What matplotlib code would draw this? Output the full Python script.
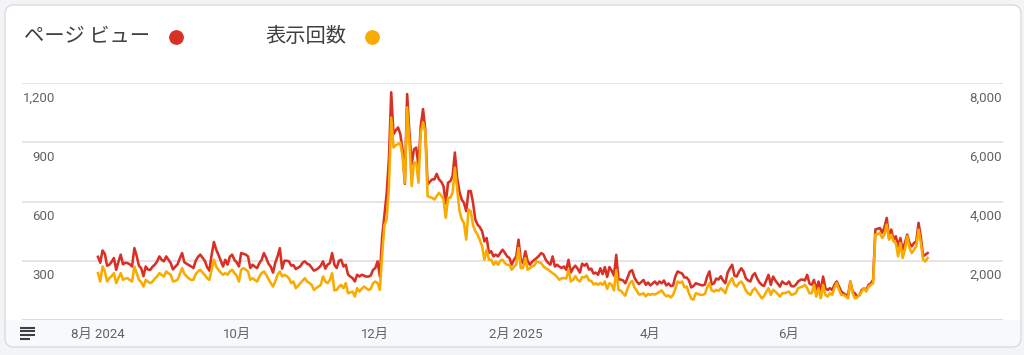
import matplotlib
matplotlib.use("Agg")
import matplotlib.pyplot as plt
import matplotlib.dates as mdates
from matplotlib.patches import FancyBboxPatch, Rectangle
from matplotlib.lines import Line2D
from matplotlib.transforms import blended_transform_factory, ScaledTranslation
import pandas as pd

plt.rcParams['font.family'] = ['Roboto', 'Noto Sans CJK JP', 'DejaVu Sans']

# ---------------- data ----------------
start_date = "2024-08-01"

pageviews = [
    320, 290, 352, 335, 275, 280, 295,
    314, 254, 295, 331, 282, 290, 288,
    282, 271, 364, 325, 275, 262, 222,
    271, 255, 254, 270, 280, 297, 322,
    305, 297, 322, 305, 288, 256, 270,
    282, 312, 339, 292, 285, 278, 271,
    263, 300, 320, 331, 315, 300, 268,
    250, 330, 395, 356, 330, 300, 271,
    305, 280, 320, 331, 305, 292, 271,
    339, 335, 331, 322, 263, 280, 270,
    263, 288, 305, 339, 314, 285, 270,
    240, 290, 322, 364, 260, 300, 300,
    297, 275, 278, 258, 265, 272, 290,
    297, 285, 280, 265, 250, 255, 263,
    275, 297, 260, 280, 288, 339, 280,
    263, 300, 305, 271, 280, 230, 220,
    212, 195, 229, 220, 229, 225, 220,
    220, 225, 254, 263, 297, 220, 420,
    530, 640, 820, 1153, 941, 960, 975,
    941, 860, 690, 1144, 949, 788, 864,
    873, 780, 983, 1068, 960, 686, 700,
    712, 712, 740, 712, 700, 678, 590,
    695, 703, 729, 848, 720, 650, 610,
    593, 551, 653, 653, 593, 508, 483,
    470, 449, 398, 415, 340, 348, 322,
    331, 322, 340, 356, 340, 322, 314,
    280, 305, 322, 407, 305, 288, 348,
    300, 280, 295, 305, 314, 325, 339,
    331, 305, 290, 280, 322, 271, 280,
    270, 263, 271, 254, 305, 240, 262,
    275, 260, 240, 285, 275, 285, 255,
    260, 235, 240, 229, 262, 232, 268,
    218, 268, 250, 225, 330, 205, 205,
    200, 186, 215, 245, 252, 215, 195,
    182, 192, 203, 178, 190, 175, 185,
    195, 180, 195, 186, 200, 175, 185,
    172, 175, 220, 246, 240, 235, 215,
    215, 200, 165, 172, 186, 182, 178,
    175, 180, 220, 246, 180, 186, 210,
    205, 222, 200, 186, 240, 262, 280,
    225, 220, 245, 262, 246, 212, 200,
    195, 225, 237, 210, 190, 178, 172,
    200, 229, 178, 220, 200, 185, 169,
    195, 185, 182, 195, 172, 170, 178,
    195, 203, 205, 200, 229, 185, 178,
    203, 152, 195, 144, 220, 161, 152,
    161, 152, 178, 195, 169, 144, 135,
    127, 127, 195, 144, 135, 118, 127,
    152, 161, 152, 178, 186, 203, 458,
    462, 466, 441, 470, 517, 415, 458,
    407, 424, 373, 415, 356, 390, 432,
    390, 373, 390, 398, 492, 420, 322,
    331, 339,
]

impressions = [
    1582, 1299, 1808, 1650, 1299, 1412, 1480,
    1582, 1243, 1420, 1582, 1356, 1400, 1412,
    1350, 1299, 1808, 1580, 1356, 1280, 1130,
    1356, 1290, 1243, 1299, 1400, 1469, 1582,
    1520, 1469, 1638, 1580, 1525, 1299, 1320,
    1356, 1550, 1751, 1560, 1469, 1400, 1356,
    1356, 1550, 1638, 1695, 1600, 1520, 1412,
    1356, 1700, 2034, 1800, 1695, 1600, 1525,
    1582, 1525, 1640, 1695, 1582, 1500, 1299,
    1695, 1751, 1700, 1638, 1356, 1412, 1350,
    1299, 1469, 1582, 1638, 1525, 1380, 1250,
    1130, 1300, 1525, 1638, 1469, 1525, 1480,
    1412, 1243, 1299, 1073, 1150, 1243, 1330,
    1412, 1299, 1250, 1186, 1017, 1080, 1130,
    1186, 1469, 1300, 1243, 1356, 1582, 1000,
    1017, 1130, 1186, 1073, 1243, 904, 930,
    960, 791, 1073, 960, 1050, 1130, 1073,
    1017, 1050, 1243, 1299, 1243, 1017, 2200,
    3200, 3400, 4500, 6836, 5819, 5900, 5932,
    5989, 5500, 4633, 7176, 5989, 4520, 5311,
    5311, 4633, 6328, 6667, 6328, 4181, 4150,
    4124, 4068, 4181, 4294, 4200, 4068, 3446,
    4124, 4124, 4294, 5141, 4407, 3700, 3400,
    3277, 2712, 3729, 3673, 3200, 3000, 2882,
    2700, 2486, 2034, 2373, 2034, 2034, 1864,
    1977, 1864, 2000, 2034, 1920, 1864, 1864,
    1695, 1800, 1864, 2430, 1751, 1751, 2091,
    1695, 1750, 1808, 1850, 1977, 1950, 1920,
    1808, 1750, 1700, 1638, 1582, 1525, 1450,
    1356, 1412, 1412, 1400, 1695, 1300, 1356,
    1480, 1350, 1300, 1450, 1440, 1500, 1330,
    1320, 1200, 1240, 1186, 1250, 1186, 1300,
    1050, 1243, 1186, 1000, 1680, 1017, 990,
    900, 820, 1073, 1250, 1320, 1100, 1000,
    860, 870, 900, 800, 880, 850, 880,
    860, 900, 950, 1000, 880, 800, 830,
    760, 850, 1050, 1300, 1250, 1300, 1100,
    1130, 900, 720, 690, 904, 880, 847,
    850, 880, 1100, 1243, 1000, 960, 1017,
    980, 1073, 1000, 904, 1150, 1300, 1412,
    1186, 1130, 1250, 1300, 1186, 1000, 900,
    847, 1000, 1073, 960, 850, 734, 800,
    950, 1073, 847, 1017, 960, 880, 791,
    900, 904, 930, 960, 847, 870, 904,
    1073, 1100, 1130, 1186, 1073, 904, 904,
    1186, 791, 1073, 734, 1186, 847, 791,
    904, 847, 1073, 1243, 1017, 847, 847,
    791, 734, 1299, 904, 734, 760, 847,
    960, 1073, 960, 1130, 1186, 1243, 2882,
    2900, 2938, 2769, 2882, 3221, 2712, 2882,
    2656, 2599, 2147, 2599, 2091, 2373, 2826,
    2430, 2260, 2373, 2486, 3051, 2600, 2034,
    1977, 2091,
]

series_names = ["ページ ビュー", "表示回数"]
left_ticks = [300, 600, 900, 1200]
left_labels = ["300", "600", "900", "1,200"]
right_ticks = [2000, 4000, 6000, 8000]
right_labels = ["2,000", "4,000", "6,000", "8,000"]
month_ticks = ["2024-08-01", "2024-10-01", "2024-12-01", "2025-02-01", "2025-04-01", "2025-06-01"]
month_labels = ["8月 2024", "10月", "12月", "2月 2025", "4月", "6月"]

dates = pd.date_range(start_date, periods=len(pageviews), freq="D")

RED = "#d93025"
ORANGE = "#f9ab00"
GRID = "#e3e3e3"
TXT = "#3c4043"
TICK = "#5f6368"

W, H = 1024, 355
fig = plt.figure(figsize=(W / 100, H / 100), dpi=100)
fig.patch.set_facecolor("#f3f4f6")

def px(x, y):
    return x / 100, (H - y) / 100

# card background
cx0, cy0 = px(5, 347)
card = FancyBboxPatch((cx0, cy0), 1016 / 100, 342 / 100,
                      boxstyle="round,pad=0,rounding_size=0.09",
                      transform=fig.dpi_scale_trans, fc="white", ec="none", zorder=-10)
fig.add_artist(card)
# bottom strip
sx0, sy0 = px(5, 347)
strip = FancyBboxPatch((sx0, sy0), 1016 / 100, 27 / 100,
                       boxstyle="round,pad=0,rounding_size=0.09",
                       transform=fig.dpi_scale_trans, fc="#f8f9fa", ec="none", zorder=-9)
fig.add_artist(strip)
rx0, ry0 = px(5, 335)
fig.add_artist(Rectangle((rx0, ry0), 1016 / 100, 15 / 100, transform=fig.dpi_scale_trans,
                         fc="#f8f9fa", ec="none", zorder=-9))
border = FancyBboxPatch((cx0, cy0), 1016 / 100, 342 / 100,
                        boxstyle="round,pad=0,rounding_size=0.09",
                        transform=fig.dpi_scale_trans, fc="none", ec="#dadce0", lw=1.0, zorder=-8)
fig.add_artist(border)

# axes
ax = fig.add_axes([22 / W, (H - 320) / H, 981 / W, 237 / H])
ax.patch.set_alpha(0)
ax2 = ax.twinx()
ax2.patch.set_alpha(0)

ax.plot(dates, pageviews, color=RED, lw=1.85, solid_joinstyle="round", zorder=3)
ax2.plot(dates, impressions, color=ORANGE, lw=1.85, solid_joinstyle="round", zorder=3)

ax.set_ylim(0, 1200)
ax2.set_ylim(0, 8000)
d0 = mdates.date2num(pd.Timestamp(start_date))
ax.set_xlim(d0 - 76 / 2.273, d0 + 905 / 2.273)

for a in (ax, ax2):
    for s in a.spines.values():
        s.set_visible(False)
    a.set_yticks([])

ax.set_yticks([0] + left_ticks)
ax.set_yticklabels([])
ax.tick_params(axis="y", length=0)
ax.yaxis.grid(True, color=GRID, lw=1.3)
ax.set_axisbelow(True)
ax.axhline(0, color="#dadce0", lw=1.3, zorder=1)

ax.set_xticks(mdates.date2num(pd.to_datetime(month_ticks)))
ax.set_xticklabels(month_labels, fontsize=9.5, color=TICK)
ax.tick_params(axis="x", length=0, pad=6)
ax2.tick_params(axis="x", length=0)

# y labels just below their gridlines
off = ScaledTranslation(0, -15 / 100, fig.dpi_scale_trans)
tl = blended_transform_factory(fig.transFigure, ax.transData) + off
for v, lab in zip(left_ticks, left_labels):
    ax.text(55 / W, v, lab, transform=tl, ha="right", va="center",
            fontsize=9.5, color=TICK, family="Roboto", clip_on=False)
tr = blended_transform_factory(fig.transFigure, ax2.transData) + off
for v, lab in zip(right_ticks, right_labels):
    ax2.text(1002 / W, v, lab, transform=tr, ha="right", va="center",
             fontsize=9.5, color=TICK, family="Roboto", clip_on=False)

# legend header
fig.text(24 / W, 1 - 37 / H, series_names[0], fontsize=14.6, color=TXT,
         family=["Noto Sans CJK JP", "DejaVu Sans"], ha="left", va="center")
fig.text(265 / W, 1 - 37 / H, series_names[1], fontsize=14.6, color=TXT,
         family=["Noto Sans CJK JP", "DejaVu Sans"], ha="left", va="center")
fig.add_artist(Line2D([176 / W], [1 - 37 / H], marker="o", markersize=9.6, color=RED,
                      transform=fig.transFigure, linestyle="none"))
fig.add_artist(Line2D([372 / W], [1 - 37 / H], marker="o", markersize=9.6, color=ORANGE,
                      transform=fig.transFigure, linestyle="none"))

# menu icon
for yy, x1 in [(327.5, 35), (331.2, 35), (335, 35), (338.6, 30)]:
    fig.add_artist(Line2D([20 / W, x1 / W], [1 - yy / H, 1 - yy / H], color=TXT, lw=1.5,
                          transform=fig.transFigure, solid_capstyle="butt"))

fig.savefig("out.png", dpi=100, facecolor=fig.get_facecolor())
